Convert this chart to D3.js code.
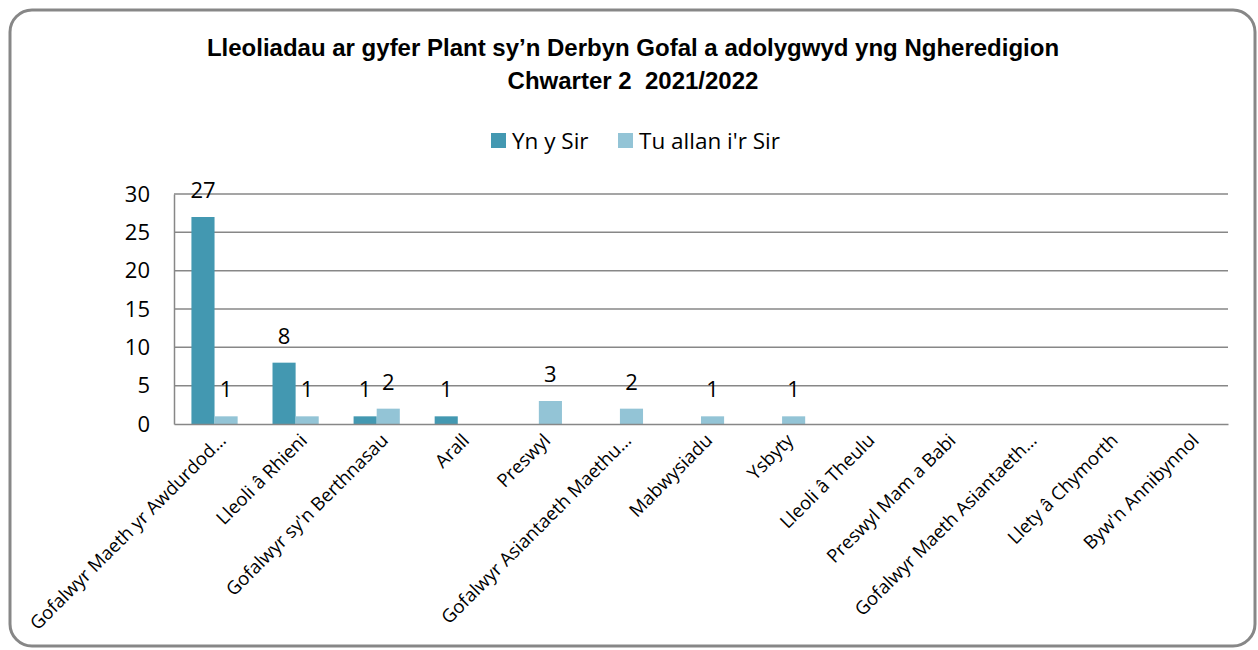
<!DOCTYPE html>
<html>
<head>
<meta charset="utf-8">
<script src="https://cdn.jsdelivr.net/npm/d3@7"></script>
<style>
  body { margin: 0; background: #fff; }
  svg { display: block; }
</style>
</head>
<body>
<div id="chart"></div>
<script>
// chart data
var categories = [
  "Gofalwyr Maeth yr Awdurdod…",
  "Lleoli â Rhieni",
  "Gofalwyr sy'n Berthnasau",
  "Arall",
  "Preswyl",
  "Gofalwyr Asiantaeth Maethu…",
  "Mabwysiadu",
  "Ysbyty",
  "Lleoli â Theulu",
  "Preswyl Mam a Babi",
  "Gofalwyr Maeth Asiantaeth…",
  "Llety â Chymorth",
  "Byw'n Annibynnol"
];
var seriesNames = ["Yn y Sir", "Tu allan i'r Sir"];
var ynYSir =       [27, 8, 1, 1, 0, 0, 0, 0, 0, 0, 0, 0, 0];
var tuAllanIrSir = [1, 1, 2, 0, 3, 2, 1, 1, 0, 0, 0, 0, 0];
var yTicks = [0, 5, 10, 15, 20, 25, 30];
var titleLines = [
  "Lleoliadau ar gyfer Plant sy’n Derbyn Gofal a adolygwyd yng Ngheredigion",
  "Chwarter 2\u00a0 2021/2022"
];

var W = 1258, H = 650;
var colors = ["#4398b1", "#93c4d6"];
var gridColor = "#878787";
var bodyFont = "'Open Sans', 'Noto Sans', sans-serif";

var svg = d3.select("#chart").append("svg")
  .attr("width", W)
  .attr("height", H);

// outer frame
svg.append("rect")
  .attr("x", 10).attr("y", 10)
  .attr("width", 1245).attr("height", 636)
  .attr("rx", 22).attr("ry", 22)
  .attr("fill", "#fff")
  .attr("stroke", gridColor)
  .attr("stroke-width", 3);

// title
svg.append("g").selectAll("text")
  .data(titleLines)
  .enter().append("text")
  .attr("x", 633)
  .attr("y", (d, i) => 56 + i * 33)
  .attr("text-anchor", "middle")
  .attr("font-family", "'Liberation Sans', Arial, sans-serif")
  .attr("font-weight", "bold")
  .attr("font-size", 24)
  .attr("fill", "#000")
  .text(d => d);

var plot = { left: 174, right: 1228, top: 194, bottom: 424 };

var x0 = d3.scaleBand()
  .domain(categories)
  .range([plot.left, plot.right])
  .paddingInner(0.43)
  .paddingOuter(0.215);

var x1 = d3.scaleBand()
  .domain(seriesNames)
  .range([0, x0.bandwidth()]);

var y = d3.scaleLinear()
  .domain([0, 30])
  .range([plot.bottom, plot.top]);

// gridlines
svg.append("g").selectAll("line")
  .data(yTicks.filter(d => d > 0))
  .enter().append("line")
  .attr("x1", plot.left).attr("x2", plot.right)
  .attr("y1", d => y(d)).attr("y2", d => y(d))
  .attr("stroke", gridColor)
  .attr("stroke-width", 1.5);

// y axis
var yAxis = svg.append("g")
  .attr("transform", "translate(" + plot.left + ",0)")
  .call(d3.axisLeft(y).tickValues(yTicks).tickSize(0).tickPadding(24));
yAxis.select(".domain").attr("stroke", gridColor).attr("stroke-width", 1.5);
yAxis.selectAll("text")
  .attr("font-family", bodyFont)
  .attr("font-size", 22)
  .attr("fill", "#000");

// bars
var rows = categories.map((c, i) => ({ cat: c, vals: [ynYSir[i], tuAllanIrSir[i]] }));

var groups = svg.append("g").selectAll("g")
  .data(rows)
  .enter().append("g")
  .attr("transform", d => "translate(" + x0(d.cat) + ",0)");

var bars = groups.selectAll("g")
  .data(d => d.vals.map((v, j) => ({ name: seriesNames[j], value: v, idx: j })).filter(d => d.value > 0))
  .enter().append("g");

bars.append("rect")
  .attr("x", d => x1(d.name))
  .attr("y", d => y(d.value))
  .attr("width", x1.bandwidth())
  .attr("height", d => y(0) - y(d.value))
  .attr("fill", d => colors[d.idx]);

bars.append("text")
  .attr("x", d => x1(d.name) + x1.bandwidth() / 2)
  .attr("y", d => y(d.value) - 19)
  .attr("text-anchor", "middle")
  .attr("font-family", bodyFont)
  .attr("font-size", 22)
  .attr("fill", "#000")
  .text(d => d.value);

// x axis
var xAxis = svg.append("g")
  .attr("transform", "translate(0," + plot.bottom + ")")
  .call(d3.axisBottom(x0).tickSize(0).tickSizeOuter(0).tickFormat(""));
xAxis.select(".domain").attr("stroke", gridColor).attr("stroke-width", 1.5);

svg.append("g").selectAll("text")
  .data(categories)
  .enter().append("text")
  .attr("transform", d => "translate(" + (x0(d) + x0.bandwidth() / 2 + 8) + "," + (plot.bottom + 13) + ") rotate(-45)")
  .attr("text-anchor", "end")
  .attr("dy", "0.35em")
  .attr("font-family", bodyFont)
  .attr("font-size", 18.5)
  .attr("fill", "#000")
  .text(d => d);

// legend
var legend = svg.append("g")
  .attr("transform", "translate(491,133)");
var legendX = [0, 127];
var items = legend.selectAll("g")
  .data(seriesNames)
  .enter().append("g")
  .attr("transform", (d, i) => "translate(" + legendX[i] + ",0)");
items.append("rect")
  .attr("width", 15).attr("height", 15)
  .attr("fill", (d, i) => colors[i]);
items.append("text")
  .attr("x", 21)
  .attr("y", 8)
  .attr("dy", "0.35em")
  .attr("font-family", bodyFont)
  .attr("font-size", 22.5)
  .attr("fill", "#000")
  .text(d => d);
</script>
</body>
</html>
